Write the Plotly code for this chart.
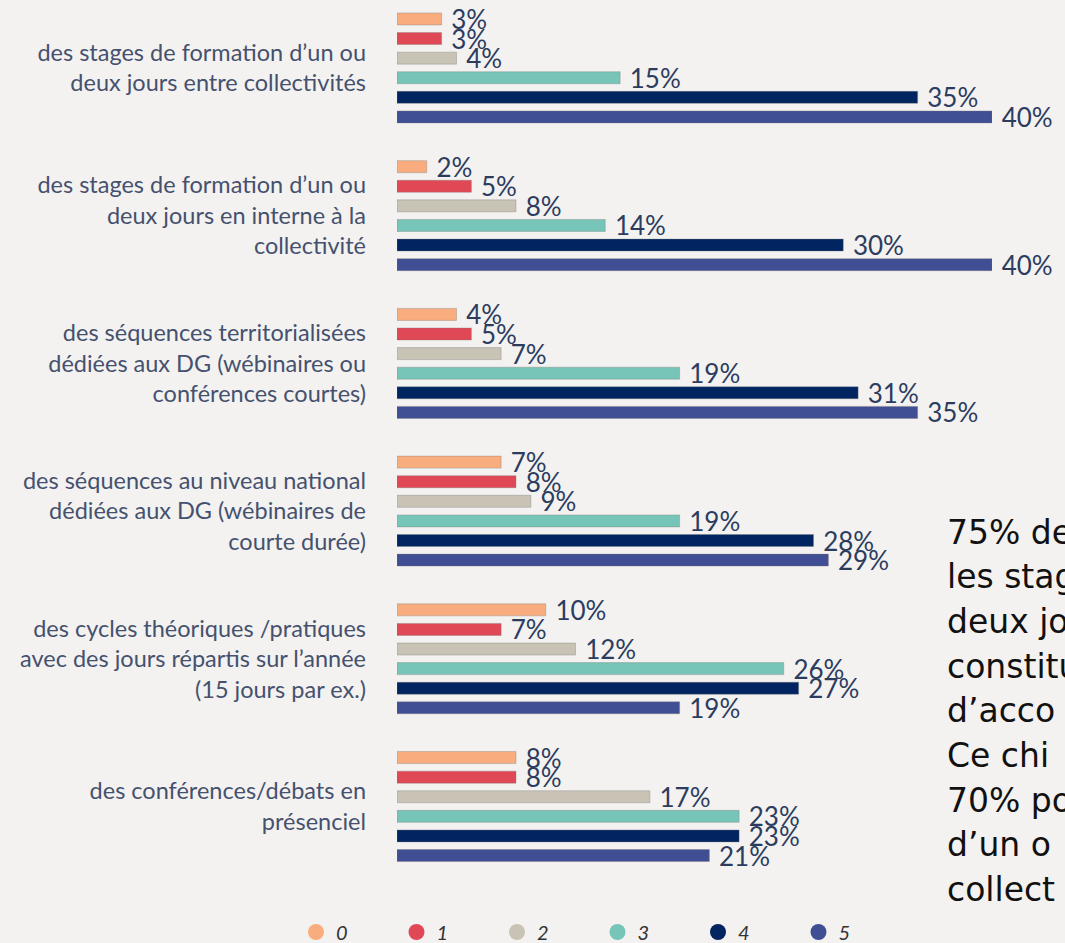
import plotly.graph_objects as go

categories = [
    "des stages de formation d’un ou<br>deux jours entre collectivités",
    "des stages de formation d’un ou<br>deux jours en interne à la<br>collectivité",
    "des séquences territorialisées<br>dédiées aux DG (wébinaires ou<br>conférences courtes)",
    "des séquences au niveau national<br>dédiées aux DG (wébinaires de<br>courte durée)",
    "des cycles théoriques /pratiques<br>avec des jours répartis sur l’année<br>(15 jours par ex.)",
    "des conférences/débats en<br>présenciel",
]

series_names = ["0", "1", "2", "3", "4", "5"]
s0 = [3, 2, 4, 7, 10, 8]
s1 = [3, 5, 5, 8, 7, 8]
s2 = [4, 8, 7, 9, 12, 17]
s3 = [15, 14, 19, 19, 26, 23]
s4 = [35, 30, 31, 28, 27, 23]
s5 = [40, 40, 35, 29, 19, 21]
series_values = [s0, s1, s2, s3, s4, s5]

colors = ["#F9AD7E", "#E04856", "#C9C3B6", "#77C5B8", "#002561", "#404E93"]

side_text = ["75% de", "les stag", "deux jo", "constitu", "d’acco",
             "Ce chi", "70% po", "d’un o", "collect"]

BG = "#F3F2F0"
fig = go.Figure()

for name, vals, col in zip(series_names, series_values, colors):
    fig.add_trace(go.Bar(
        x=vals, y=categories, orientation="h",
        marker=dict(color=col, line=dict(color="rgba(120,120,120,0.35)", width=1)),
        text=[f"\u00a0{v}%" for v in vals],
        textposition="outside", constraintext="none", cliponaxis=False,
        textfont=dict(family="Lato", size=26, color="#2C3C5F"),
        showlegend=False, hoverinfo="skip",
    ))

for name, col in zip(series_names, colors):
    fig.add_trace(go.Scatter(
        x=[None], y=[None], mode="markers", name=name,
        marker=dict(symbol="circle", size=20, color=col),
    ))

# layout geometry
plot_h = 890
annotations = []
for i, line in enumerate(side_text):
    ypx = 532 + i * 44.7
    annotations.append(dict(
        text=line, xref="paper", yref="paper",
        x=(945 - 397) / 595, y=1 - ypx / plot_h,
        xanchor="left", yanchor="middle", showarrow=False,
        font=dict(family="DejaVu Sans", size=33, color="#111111"),
    ))

fig.update_layout(
    width=1065, height=943,
    margin=dict(l=397, r=73, t=0, b=943 - plot_h, autoexpand=False),
    paper_bgcolor=BG, plot_bgcolor=BG,
    barmode="group", bargap=0.204, bargroupgap=0.388,
    xaxis=dict(range=[0, 40], showticklabels=False, showgrid=False,
               zeroline=False, showline=False),
    yaxis=dict(type="category", range=[5.565, -0.46], showgrid=False,
               zeroline=False, showline=False, ticks="",
               ticklabelstandoff=30,
               tickfont=dict(family="Lato", size=23.5, color="#45516E")),
    legend=dict(orientation="h", x=(296 - 397) / 595, xanchor="left",
                y=-42 / plot_h, yanchor="middle",
                entrywidth=55.5, entrywidthmode="pixels",
                font=dict(family="Lato", size=20, color="#333333", style="italic"),
                bgcolor="rgba(0,0,0,0)"),
    annotations=annotations,
    showlegend=True,
)

fig.write_html(
    "out.html",
    config={"displayModeBar": False},
    post_script="document.body.style.margin='0';document.body.style.overflow='hidden';",
)
